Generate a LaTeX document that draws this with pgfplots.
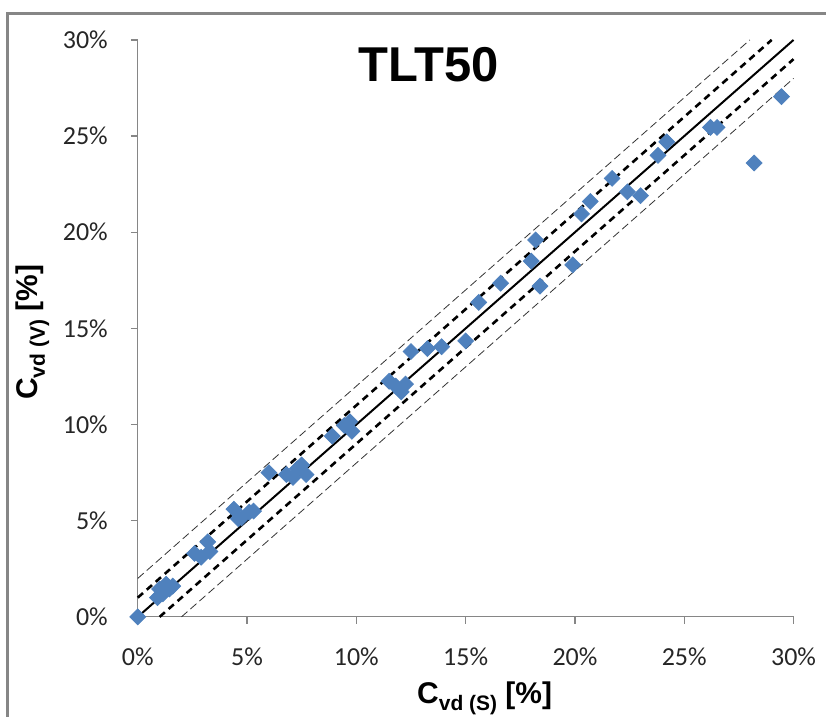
\documentclass[border=0pt]{standalone}
\usepackage{fontspec}
\setmainfont{Carlito}
\newfontfamily\arial{Liberation Sans}
\usepackage{pgfplots}
\pgfplotsset{compat=1.18}
\definecolor{xlblue}{RGB}{79,129,189}
\definecolor{axgray}{RGB}{134,134,134}
\newcommand\sub[1]{\raisebox{-0.45ex}{\fontsize{10.5}{12}\selectfont #1}}
\begin{document}
\begin{tikzpicture}
% frame lines of the original picture
\draw[line width=1.5pt, axgray] (-65pt,-50pt) -- (-65pt,302pt) -- (344.5pt,302pt);
\path (-69pt,-50pt) rectangle (344.5pt,309pt);
\begin{axis}[
    at={(0pt,0pt)}, anchor=origin,
    scale only axis,
    width=328.5pt,
    height=289pt,
    xmin=0, xmax=30,
    ymin=0, ymax=30,
    xtick={0,5,...,30},
    ytick={0,5,...,30},
    axis lines*=left,
    axis line style={axgray, line width=0.6pt, -},
    tick style={axgray, line width=0.6pt},
    tick align=outside,
    major tick length=3.5pt,
    /pgf/number format/assume math mode=true,
    xticklabel={\pgfmathprintnumber{\tick}\%},
    yticklabel={\pgfmathprintnumber{\tick}\%},
    ticklabel style={font=\fontsize{13}{15}\selectfont, text=black!85},
    xticklabel style={yshift=-8.5pt},
    yticklabel style={xshift=-8pt},
    xlabel={\arial\bfseries C\sub{vd (S)} [\%]},
    ylabel={\arial\bfseries C\sub{vd (V)} [\%]},
    label style={font=\fontsize{15}{17}\selectfont},
    xlabel style={yshift=-1pt, xshift=9.5pt},
    ylabel style={yshift=0pt, xshift=-2pt},
    clip=false,
]
\addplot[thin, dash pattern=on 4pt off 2pt, black!80] coordinates {(0,2) (28,30)};
\addplot[thin, dash pattern=on 4pt off 2pt, black!80] coordinates {(2,0) (30,28)};
\addplot[line width=1.3pt, dash pattern=on 3.5pt off 2.5pt, black] coordinates {(0,1) (29,30)};
\addplot[line width=1.3pt, dash pattern=on 3.5pt off 2.5pt, black] coordinates {(1,0) (30,29)};
\addplot[line width=1pt, black] coordinates {(0,0) (30,30)};
\addplot[only marks, mark=square*, mark size=2.8pt,
    mark options={rotate=45, fill=xlblue, draw=xlblue}] coordinates {
    (0,0)
    (1.0,1.45) (1.3,1.7) (1.45,1.45) (0.9,1.0) (1.15,1.2) (1.6,1.6)
    (2.6,3.3) (2.9,3.1) (3.2,3.9) (3.3,3.4)
    (4.4,5.6) (4.75,5.15) (5.1,5.45) (4.6,5.1) (5.3,5.5)
    (6.0,7.5) (6.8,7.4) (7.3,7.7) (7.7,7.4) (7.1,7.25) (7.5,7.9)
    (8.9,9.4) (9.45,9.95) (9.7,10.15) (9.8,9.65)
    (11.5,12.25) (11.8,12.0) (12.05,11.7) (12.25,12.1)
    (12.5,13.8) (13.25,13.95) (13.9,14.05) (15.0,14.35) (15.6,16.35)
    (16.6,17.35) (18.0,18.5) (18.2,19.6) (18.4,17.2) (19.9,18.3)
    (20.3,20.95) (20.7,21.6) (21.7,22.8) (22.4,22.1) (23.0,21.9)
    (23.8,24.0) (24.2,24.7) (26.2,25.45) (26.5,25.45) (28.2,23.6) (29.45,27.05)
};
\node[font=\arial\bfseries\fontsize{24.5}{27}\selectfont] at (axis cs:13.3,28.7) {TLT50};
\end{axis}
\end{tikzpicture}
\end{document}
